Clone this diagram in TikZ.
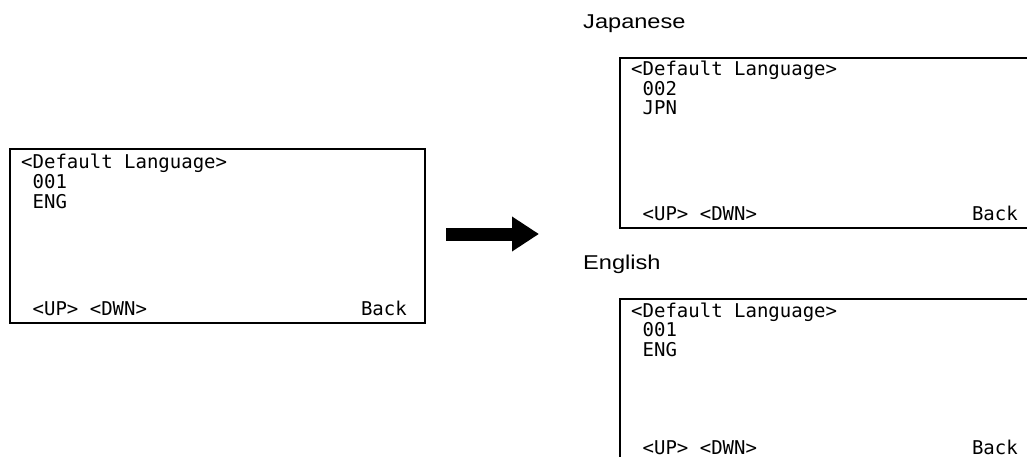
\documentclass[tikz,border=0pt]{standalone}
\usepackage{fontspec}
\setmainfont{Liberation Sans}
\newfontfamily\lcdfont{DejaVu Sans Mono}
\newfontfamily\labfont[FakeStretch=1.18]{Liberation Sans}
\usetikzlibrary{arrows.meta}
\begin{document}
\begin{tikzpicture}[x=1pt,y=-1pt,
  screen/.style={draw, line width=1.6pt, rectangle, inner sep=0pt, anchor=north west},
  lcd/.style={font=\lcdfont\fontsize{19}{20}\selectfont, inner sep=0pt, anchor=base west},
  lcdr/.style={font=\lcdfont\fontsize{19}{20}\selectfont, inner sep=0pt, anchor=base east},
  lab/.style={font=\labfont\fontsize{20}{24}\selectfont, inner sep=0pt, anchor=base west},
  bigarrow/.style={line width=13pt, -{Triangle[length=27pt,width=33pt]}}]
\useasboundingbox (0,0) rectangle (1027,457);
\clip (0,0) rectangle (1027,457);
% left screen
\node[screen, minimum width=415pt, minimum height=174pt] (L) at (9,148) {};
\node[lcd] (L1) at (21,169) {<Default Language>};
\node[lcd] (L2) at (21,188.5) {\ 001};
\node[lcd] (L3) at (21,208) {\ ENG};
\node[lcd] (L4) at (21,315) {\ <UP> <DWN>};
\node[lcdr] (L5) at (407,315) {Back};
% arrow
\coordinate (a1) at (446,234);
\coordinate (a2) at (539,234);
\draw[bigarrow] (a1) -- (a2);
% Japanese
\node[lab] (jl) at (583,29) {Japanese};
\node[screen, minimum width=416pt, minimum height=170pt] (J) at (619,57) {};
\node[lcd] (J1) at (631,76) {<Default Language>};
\node[lcd] (J2) at (631,95.5) {\ 002};
\node[lcd] (J3) at (631,115) {\ JPN};
\node[lcd] (J4) at (631,220) {\ <UP> <DWN>};
\node[lcdr] (J5) at (1018,220) {Back};
% English
\node[lab] (el) at (583,269) {English};
\node[screen, minimum width=416pt, minimum height=170pt] (E) at (619,298) {};
\node[lcd] (E1) at (631,317) {<Default Language>};
\node[lcd] (E2) at (631,336.5) {\ 001};
\node[lcd] (E3) at (631,356) {\ ENG};
\node[lcd] (E4) at (631,454) {\ <UP> <DWN>};
\node[lcdr] (E5) at (1018,454) {Back};
\end{tikzpicture}
\end{document}
